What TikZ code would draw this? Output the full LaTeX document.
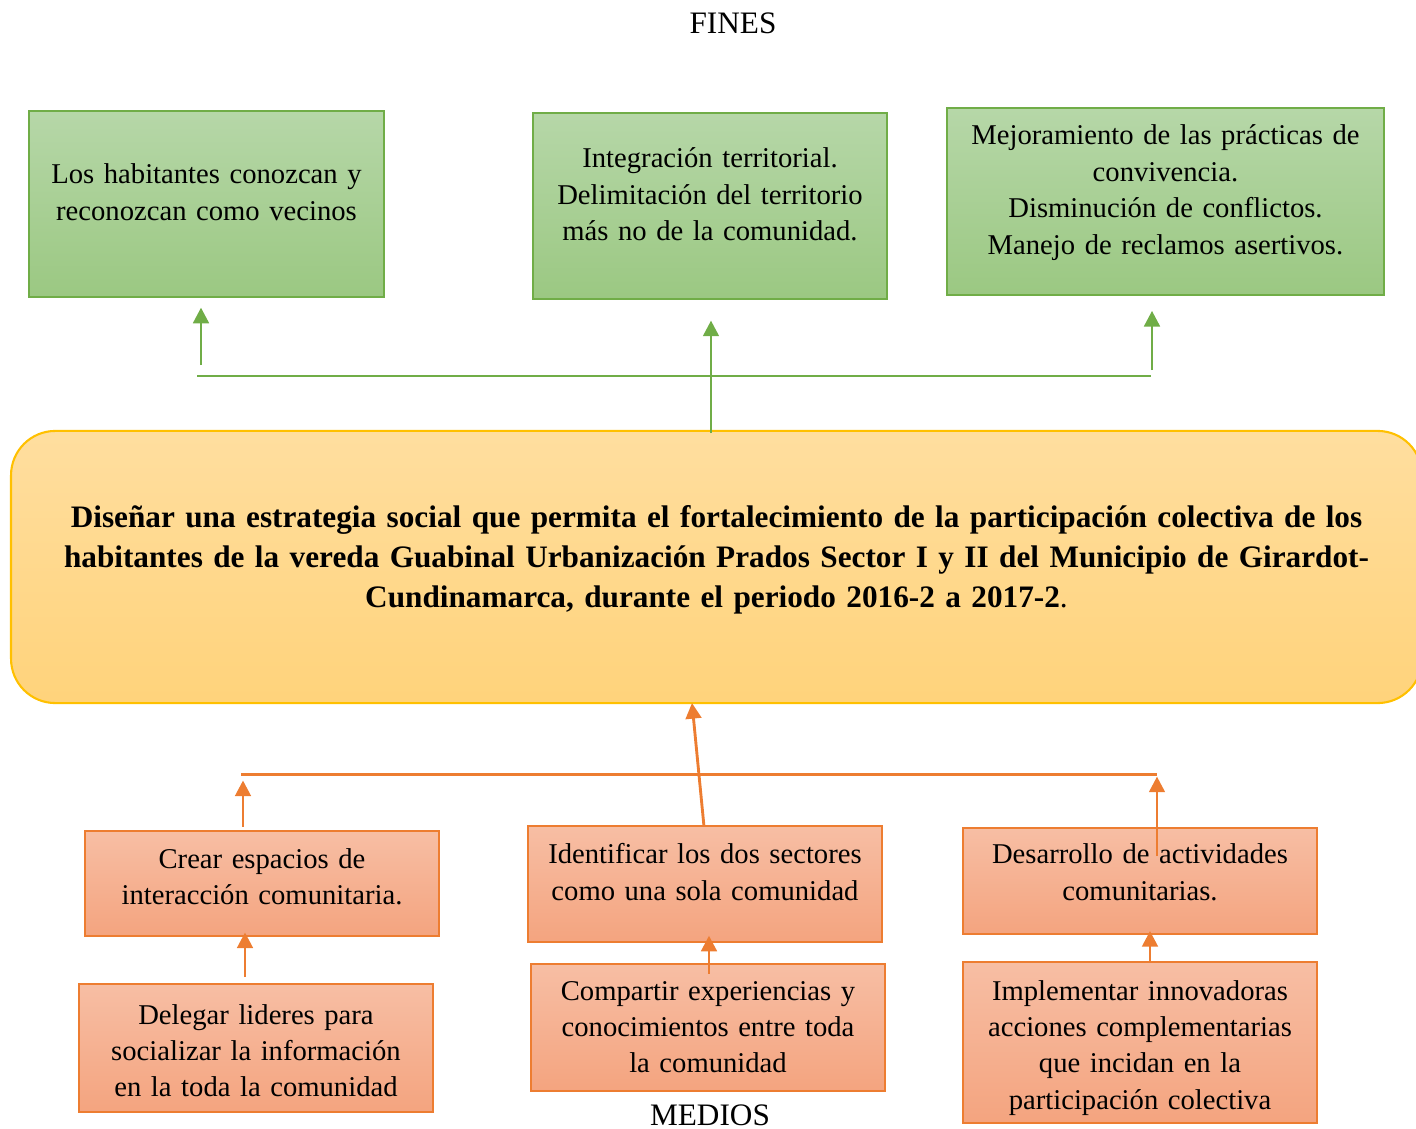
\documentclass[tikz,border=0pt]{standalone}
\usepackage{fontspec}
\setmainfont{Liberation Serif}
\usepackage{tikz}
\usetikzlibrary{
  positioning,
  arrows.meta
}
\definecolor{verde}{HTML}{70AD47}
\definecolor{verdeA}{HTML}{B6D7A8}
\definecolor{verdeB}{HTML}{9BC882}
\definecolor{naranja}{HTML}{ED7D31}
\definecolor{naranjaA}{HTML}{F7BEA4}
\definecolor{naranjaB}{HTML}{F4A47F}
\definecolor{amarillo}{HTML}{FFC000}
\definecolor{amarilloA}{HTML}{FFDE9F}
\definecolor{amarilloB}{HTML}{FFD37B}
\newcommand{\pxl}{0.384pt}

\begin{document}
\begin{tikzpicture}[x=\pxl,y=-\pxl,>={Triangle[length=6pt,width=6pt]},
  fin/.style={draw=verde,line width=0.6pt,top color=verdeA,bottom color=verdeB,inner xsep=2pt,inner ysep=0pt,align=center,font=\fontsize{11}{14}\selectfont},
  medio/.style={draw=naranja,line width=0.7pt,top color=naranjaA,bottom color=naranjaB,inner xsep=2pt,inner ysep=0pt,align=center,minimum width=135.9pt,text width=130pt,font=\fontsize{11}{14}\selectfont},
  objetivo/.style={draw=amarillo,line width=0.8pt,top color=amarilloA,bottom color=amarilloB,rounded corners=17pt,inner xsep=2pt,inner ysep=0pt,align=center,font=\fontsize{12}{15.4}\selectfont\bfseries},
  titulo/.style={font=\fontsize{12}{14}\selectfont},
  flechav/.style={verde,line width=1.1pt},
  flechan/.style={naranja,line width=1.1pt}]
        \useasboundingbox (0,0) rectangle (1416,1129);

        \node[titulo] (fines) at (733,23) {FINES};
        \node[titulo] (medios) at (710,1115) {MEDIOS};

        \node[fin,minimum width=136.3pt,text width=130pt,text height=28pt,text depth=43.4pt] (f1) at (206.5,204) {Los habitantes conozcan y\\reconozcan como vecinos};
        \node[fin,minimum width=135.9pt,text width=130pt,text height=21.1pt,text depth=50.3pt] (f2) at (710,206) {Integración territorial.\\Delimitación del territorio\\más no de la comunidad.};
        \node[fin,minimum width=167.8pt,text width=162pt,text height=14.2pt,text depth=57.6pt] (f3) at (1165.5,201.5) {Mejoramiento de las prácticas de\\convivencia.\\Disminución de conflictos.\\Manejo de reclamos asertivos.};

        \node[objetivo,minimum width=541.8pt,text width=535pt,text height=36.9pt,text depth=67.6pt] (obj) at (716.5,567) {Diseñar una estrategia social que permita el fortalecimiento de la participación colectiva de los\\habitantes de la vereda Guabinal Urbanización Prados Sector I y II del Municipio de Girardot-\\Cundinamarca, durante el periodo 2016-2 a 2017-2\textmd{.}};

        \node[medio,text height=14.2pt,text depth=26.1pt] (b1) at (262,883.5) {Crear espacios de\\interacción comunitaria.};
        \node[medio,text height=14.4pt,text depth=30pt] (b2) at (705,884) {Identificar los dos sectores\\como una sola comunidad};
        \node[medio,text height=13.8pt,text depth=26.9pt] (b3) at (1140,881) {Desarrollo de actividades\\comunitarias.};

        \node[medio,text height=15.4pt,text depth=33.8pt] (c1) at (256,1048) {Delegar lideres para\\socializar la información\\en la toda la comunidad};
        \node[medio,text height=13.8pt,text depth=34.9pt] (c2) at (708,1027.5) {Compartir experiencias y\\conocimientos entre toda\\la comunidad};
        \node[medio,text height=14.6pt,text depth=47.2pt] (c3) at (1140,1042.5) {Implementar innovadoras\\acciones complementarias\\que incidan en la\\participación colectiva};

        \coordinate (gi) at (197,376);
        \coordinate (gd) at (1151,376);
        \draw[flechav] (gi) -- (gd);
        \coordinate (g1) at (201,365);
        \draw[flechav,->,shorten >=3.8pt] (g1) -- (g1 |- f1.south);
        \coordinate (g2) at (711,433);
        \draw[flechav,->,shorten >=8pt] (g2) -- (g2 |- f2.south);
        \coordinate (g3) at (1152,370);
        \draw[flechav,->,shorten >=5.8pt] (g3) -- (g3 |- f3.south);

        \coordinate (ni) at (241,774.5);
        \coordinate (nd) at (1157,774.5);
        \draw[flechan] (ni) -- (nd);
        \coordinate (n1) at (243,826.5);
        \draw[flechan,->,shorten >=2.3pt] (n1) -- (n1 |- ni);
        \coordinate (n2) at (704,826.5);
        \coordinate (n2t) at (692,703);
        \draw[flechan,->] (n2) -- (n2t);
        \coordinate (n3) at (1157,856);
        \draw[flechan,->,shorten >=0.8pt] (n3) -- (nd);

        \coordinate (m1) at (245,977);
        \draw[flechan,->,shorten >=-1.7pt] (m1) -- (m1 |- b1.south);
        \coordinate (m2) at (709,973.5);
        \draw[flechan,->,shorten >=-2.7pt] (m2) -- (m2 |- b2.south);
        \coordinate (m3) at (1150,963);
        \draw[flechan,->,shorten >=-1.5pt] (m3) -- (m3 |- b3.south);
    \end{tikzpicture}
\end{document}
